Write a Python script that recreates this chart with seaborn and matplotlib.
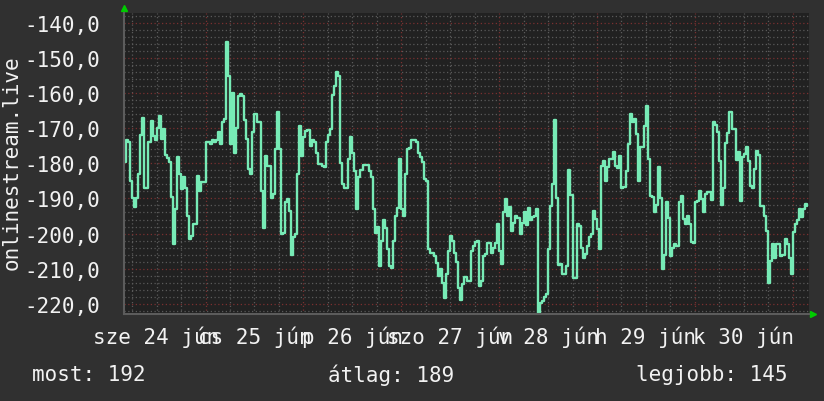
import pandas as pd
import seaborn as sns
import matplotlib.pyplot as plt
import matplotlib.dates as mdates
from matplotlib.ticker import MultipleLocator, FuncFormatter

# half-hourly samples, one week starting 2015-06-24 04:00
start = pd.Timestamp('2015-06-24 04:00')
values = [
    -179.5, -173.3, -174, -185, -190, -192.5, -190, -183, -172, -167,
    -187, -187, -174, -168, -172.3, -173.5, -170, -166.4, -173, -170.2,
    -177.5, -178.5, -179.5, -189.5, -203, -193, -178.3, -183, -187.3, -184,
    -187, -195, -201.6, -200.7, -197.3, -197.3, -183.5, -187.8, -185.4, -185.4,
    -174, -174, -174.5, -173.5, -174, -173.5, -171, -174.5, -168.3, -167.3,
    -145.4, -155, -174.5, -160, -177, -170, -160.7, -160.2, -160.7, -167.8,
    -173, -181.5, -183, -171, -166, -168.3, -168.3, -187.8, -198.3, -178,
    -180.7, -180.7, -190, -188.8, -175.9, -165.5, -175.9, -200.2, -199.7, -191,
    -190.2, -193.5, -206, -201.1, -200, -183, -169.5, -178, -172.6, -170.7,
    -170.5, -175, -173.3, -174, -177, -180.2, -180.2, -180.7, -181.1, -173.8,
    -172, -170.2, -160.5, -158, -154, -155, -180, -185.9, -186.9, -186.9,
    -178.8, -172.6, -177, -182.1, -193, -184, -182, -180.5, -180.5, -180.5,
    -182.1, -184, -193, -199.7, -198, -209.2, -202.1, -196, -198.3, -204.5,
    -209.2, -209.7, -202, -195, -192.6, -178.8, -193, -195, -183, -175.9,
    -175.5, -173.5, -173.3, -174, -177, -178.3, -179.7, -184.5, -185, -204.5,
    -205.4, -205.4, -206.4, -208.3, -212, -210.2, -214, -218.3, -211.4, -205,
    -200.7, -202.1, -205.4, -208, -215.4, -218.8, -214.5, -212.5, -213.5, -213.5,
    -205, -203.5, -202.5, -202.1, -215, -213.5, -206.4, -205.9, -202.6, -202.6,
    -205.4, -204, -202.6, -197.3, -205, -208.8, -194, -190.2, -195, -192.4,
    -199.2, -197, -195, -195.5, -200.2, -197, -194, -197.5, -192.6, -196,
    -195.4, -195, -193, -222.6, -219.7, -219.2, -218, -217.3, -204.5, -192.1,
    -185.9, -167.8, -190, -209, -208.8, -211.6, -211.6, -209.2, -182, -189,
    -212.6, -212.6, -197.3, -197.8, -204, -206.9, -205.9, -203.5, -201.1, -200,
    -193.5, -195.9, -198.8, -204.5, -180.9, -179.2, -185, -181.1, -178.8, -178.8,
    -176.9, -180.7, -181.4, -178, -186.9, -186.6, -182.1, -174.5, -166, -168.3,
    -167.5, -171.6, -185, -175.4, -175.4, -169.3, -163.8, -178.8, -189.2, -189.5,
    -194, -192, -181.1, -190, -210, -206, -191, -195.5, -206.4, -204,
    -203, -203.5, -191, -189.2, -195.9, -197.3, -195, -197.3, -202.4, -202.6,
    -191.1, -190.7, -188, -190.2, -194, -188.6, -188.3, -188.3, -190.5, -168.3,
    -169, -171.1, -179.2, -192, -187, -174.3, -171.4, -165.4, -170.2, -170.2,
    -179, -176.9, -190.7, -178.3, -177.3, -175.4, -179.2, -186.4, -186.9, -181.6,
    -176.4, -177.5, -192.1, -192.1, -195, -199.2, -214, -207.8, -203, -207,
    -203, -203, -206.4, -206, -201.6, -203, -207, -211.6, -199.5, -197.3,
    -196, -193, -195.2, -193, -191.6, -192.1,
]
day_labels = ['sze 24 jún', 'cs 25 jún', 'p 26 jún', 'szo 27 jún',
              'v 28 jún', 'h 29 jún', 'k 30 jún']
label_days = pd.date_range('2015-06-24 12:00', periods=7, freq='D')
stat_now, stat_avg, stat_best = 192, 189, 145
ylabel = 'onlinestream.live'

df = pd.DataFrame({'time': pd.date_range(start, periods=len(values), freq='30min'),
                   'value': values})

fig_bg = '#303030'
ax_bg = '#212121'
txt = '#f2f2f2'

sns.set_style('dark')
plt.rcParams['font.family'] = ['DejaVu Sans Mono']

fig = plt.figure(figsize=(8.24, 4.02), dpi=100, facecolor=fig_bg)
ax = fig.add_axes([124 / 824, 1 - 315 / 402, 685 / 824, 301 / 402])
ax.set_facecolor(ax_bg)

sns.lineplot(data=df, x='time', y='value', ax=ax, color='#77ebb6',
             linewidth=1.7, drawstyle='steps-post', legend=False)

ax.set_xlim(start, start + pd.Timedelta(days=7))
ax.set_ylim(-222.9, -137.2)

# grid: red at majors, grey at minors
ax.xaxis.set_major_locator(mdates.DayLocator())
ax.xaxis.set_minor_locator(mdates.HourLocator(byhour=[6, 12, 18]))
ax.xaxis.set_major_formatter(FuncFormatter(lambda x, p: ''))
lab_map = {d.day: l for d, l in zip(label_days, day_labels)}


def minor_fmt(x, p):
    d = mdates.num2date(x)
    if d.hour == 12:
        return lab_map.get(d.day, '')
    return ''


ax.xaxis.set_minor_formatter(FuncFormatter(minor_fmt))
ax.yaxis.set_major_locator(MultipleLocator(10))
ax.yaxis.set_minor_locator(MultipleLocator(2))
ax.yaxis.set_major_formatter(FuncFormatter(lambda v, p: f'{v:.1f}'.replace('.', ',')))

ax.grid(which='major', color='#7a3030', linestyle=(0, (1, 2)), linewidth=0.9)
ax.grid(which='minor', color='#5a5a5a', linestyle=(0, (1, 2)), linewidth=0.9)
ax.set_axisbelow(True)

ax.tick_params(axis='both', which='both', colors='#777777', labelcolor=txt,
               labelsize=15, length=3, width=0.8)
ax.tick_params(axis='y', which='major', pad=14)
ax.tick_params(axis='x', which='minor', pad=5)

for s in ['top', 'right']:
    ax.spines[s].set_visible(False)
for s in ['left', 'bottom']:
    ax.spines[s].set_visible(True)
    ax.spines[s].set_color('#5c5c5c')
    ax.spines[s].set_linewidth(1.5)

ax.set_xlabel('')
ax.set_ylabel('')

# little green arrow heads at the axis ends
ax.plot([0], [1.015], marker='^', color='#00cc00', markersize=5,
        transform=ax.transAxes, clip_on=False)
ax.plot([1.006], [0], marker='>', color='#00cc00', markersize=5,
        transform=ax.transAxes, clip_on=False)

fig.text(12 / 824, 1 - 163 / 402, ylabel, rotation=90, color=txt,
         fontsize=15, ha='center', va='center')
fig.text(32 / 824, 1 - 375 / 402, f'most: {stat_now}', color=txt, fontsize=15, va='center')
fig.text(328 / 824, 1 - 375 / 402, f'átlag: {stat_avg}', color=txt, fontsize=15, va='center')
fig.text(636 / 824, 1 - 375 / 402, f'legjobb: {stat_best}', color=txt, fontsize=15, va='center')

plt.savefig('out.png', dpi=100, facecolor=fig_bg)
